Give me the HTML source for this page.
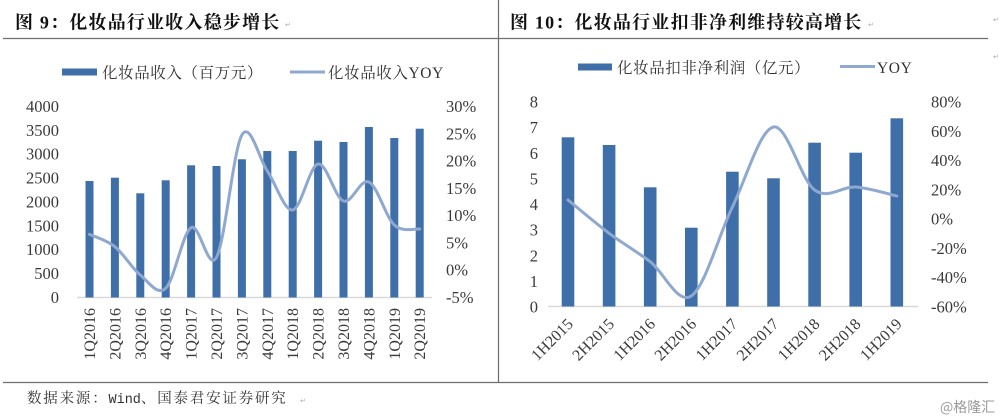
<!DOCTYPE html>
<html><head><meta charset="utf-8">
<style>
html,body{margin:0;padding:0;background:#fff;}
svg{display:block;}
.t{font-family:"Liberation Serif","Noto Serif CJK SC",serif;font-size:16.5px;fill:#3a3a3a;}
.x{font-family:"Liberation Serif","Noto Serif CJK SC",serif;font-size:16px;fill:#3a3a3a;}
.ttl{font-family:"Liberation Serif","Noto Serif CJK SC",serif;font-size:18px;font-weight:bold;fill:#111;letter-spacing:1.2px;}
.lg{font-family:"Liberation Serif","Noto Serif CJK SC",serif;font-size:15.5px;fill:#333;letter-spacing:0.6px;}
.ft{font-family:"Liberation Serif","Noto Serif CJK SC",serif;font-size:14.5px;fill:#333;letter-spacing:1.8px;}
.mk{font-family:"DejaVu Sans",sans-serif;font-size:7px;fill:#aaa;}
</style></head>
<body>
<svg width="1000" height="420" viewBox="0 0 1000 420" xmlns="http://www.w3.org/2000/svg">
<rect width="1000" height="420" fill="#fff"/>
<line x1="3" y1="38.5" x2="988" y2="38.5" stroke="#6e6e6e" stroke-width="1.2"/>
<line x1="3" y1="382.5" x2="988" y2="382.5" stroke="#6e6e6e" stroke-width="1.2"/>
<line x1="498.5" y1="0" x2="498.5" y2="382.5" stroke="#6e6e6e" stroke-width="1.2"/>

<text class="ttl" x="15" y="28.5">图 9：化妆品行业收入稳步增长</text>
<text class="mk" x="285" y="27">↵</text>
<text class="ttl" x="510" y="28.5">图 10：化妆品行业扣非净利维持较高增长</text>
<text class="mk" x="868" y="27">↵</text>
<text class="mk" x="993" y="22">↵</text>
<text class="mk" x="993" y="59">↵</text>

<rect x="62" y="68.5" width="35" height="7" fill="#3f6fa8"/>
<text class="lg" x="102" y="78">化妆品收入（百万元）</text>
<line x1="290" y1="72" x2="325" y2="72" stroke="#8ea8cf" stroke-width="3"/>
<text class="lg" x="328" y="78">化妆品收入YOY</text>

<line x1="77" y1="297.5" x2="432" y2="297.5" stroke="#d9d9d9" stroke-width="1.5"/>

<g fill="#3f6fa8">
<rect x="85.5" y="181" width="8" height="116.5"/>
<rect x="110.9" y="177.7" width="8" height="119.8"/>
<rect x="136.3" y="193.3" width="8" height="104.2"/>
<rect x="161.7" y="180.3" width="8" height="117.2"/>
<rect x="187.1" y="165.3" width="8" height="132.2"/>
<rect x="212.5" y="166" width="8" height="131.5"/>
<rect x="237.9" y="159.3" width="8" height="138.2"/>
<rect x="263.3" y="151" width="8" height="146.5"/>
<rect x="288.7" y="151" width="8" height="146.5"/>
<rect x="314.1" y="140.7" width="8" height="156.8"/>
<rect x="339.5" y="142" width="8" height="155.5"/>
<rect x="364.9" y="127" width="8" height="170.5"/>
<rect x="390.3" y="138" width="8" height="159.5"/>
<rect x="415.7" y="128.7" width="8" height="168.8"/>
</g>

<path fill="none" stroke="#8ea8cf" stroke-width="3" stroke-linecap="round" d="M89.5,234.3 C93.73,236.37 106.43,239.92 114.9,246.7 C123.37,253.48 131.83,268.07 140.3,275 C148.77,281.93 157.23,296.18 165.7,288.3 C174.17,280.42 182.63,232.87 191.1,227.7 C199.57,222.53 208.03,272.75 216.5,257.3 C224.97,241.85 233.43,149.38 241.9,135 C250.37,120.62 258.83,158.5 267.3,171 C275.77,183.5 284.23,211.17 292.7,210 C301.17,208.83 309.63,165.5 318.1,164 C326.57,162.5 335.03,198 343.5,201 C351.97,204 360.43,178 368.9,182 C377.37,186 385.83,217.17 394.3,225 C402.77,232.83 415.47,228.33 419.7,229"/>

<g class="t" text-anchor="end">
<text x="59" y="112">4000</text>
<text x="59" y="135.9">3500</text>
<text x="59" y="159.7">3000</text>
<text x="59" y="183.6">2500</text>
<text x="59" y="207.4">2000</text>
<text x="59" y="231.3">1500</text>
<text x="59" y="255.2">1000</text>
<text x="59" y="279">500</text>
<text x="59" y="302.9">0</text>
</g>
<g class="t">
<text x="446" y="112">30%</text>
<text x="446" y="139.3">25%</text>
<text x="446" y="166.6">20%</text>
<text x="446" y="193.9">15%</text>
<text x="446" y="221.1">10%</text>
<text x="446" y="248.4">5%</text>
<text x="446" y="275.7">0%</text>
<text x="446" y="303">-5%</text>
</g>

<g class="x" text-anchor="end">
<text transform="translate(95,308) rotate(-90)">1Q2016</text>
<text transform="translate(120.4,308) rotate(-90)">2Q2016</text>
<text transform="translate(145.8,308) rotate(-90)">3Q2016</text>
<text transform="translate(171.2,308) rotate(-90)">4Q2016</text>
<text transform="translate(196.6,308) rotate(-90)">1Q2017</text>
<text transform="translate(222,308) rotate(-90)">2Q2017</text>
<text transform="translate(247.4,308) rotate(-90)">3Q2017</text>
<text transform="translate(272.8,308) rotate(-90)">4Q2017</text>
<text transform="translate(298.2,308) rotate(-90)">1Q2018</text>
<text transform="translate(323.6,308) rotate(-90)">2Q2018</text>
<text transform="translate(349,308) rotate(-90)">3Q2018</text>
<text transform="translate(374.4,308) rotate(-90)">4Q2018</text>
<text transform="translate(399.8,308) rotate(-90)">1Q2019</text>
<text transform="translate(425.2,308) rotate(-90)">2Q2019</text>
</g>

<rect x="578" y="63.5" width="34" height="7" fill="#3f6fa8"/>
<text class="lg" x="617" y="73">化妆品扣非净利润（亿元）</text>
<line x1="840" y1="66.5" x2="875" y2="66.5" stroke="#8ea8cf" stroke-width="3"/>
<text class="lg" x="877" y="73">YOY</text>

<line x1="548" y1="306.5" x2="918" y2="306.5" stroke="#d9d9d9" stroke-width="1.5"/>

<g fill="#3f6fa8">
<rect x="561.7" y="137.3" width="12.6" height="169.2"/>
<rect x="602.8" y="145" width="12.6" height="161.5"/>
<rect x="643.9" y="187.3" width="12.6" height="119.2"/>
<rect x="685" y="227.7" width="12.6" height="78.8"/>
<rect x="726.1" y="171.7" width="12.6" height="134.8"/>
<rect x="767.2" y="178.3" width="12.6" height="128.2"/>
<rect x="808.3" y="142.7" width="12.6" height="163.8"/>
<rect x="849.4" y="152.7" width="12.6" height="153.8"/>
<rect x="890.5" y="118.3" width="12.6" height="188.2"/>
</g>

<path fill="none" stroke="#8ea8cf" stroke-width="3" stroke-linecap="round" d="M568,200 C574.85,205.55 595.4,223.02 609.1,233.3 C622.8,243.58 636.5,251.25 650.2,261.7 C663.9,272.15 677.6,305.12 691.3,296 C705,286.88 718.7,235.17 732.4,207 C746.1,178.83 759.8,129.83 773.5,127 C787.2,124.17 800.9,180 814.6,190 C828.3,200 842,186 855.7,187 C869.4,188 889.95,194.5 896.8,196"/>

<g class="t" text-anchor="end">
<text x="538" y="107.5">8</text>
<text x="538" y="133.1">7</text>
<text x="538" y="158.8">6</text>
<text x="538" y="184.4">5</text>
<text x="538" y="210">4</text>
<text x="538" y="235.6">3</text>
<text x="538" y="261.3">2</text>
<text x="538" y="286.9">1</text>
<text x="538" y="312.5">0</text>
</g>
<g class="t">
<text x="931" y="107.5">80%</text>
<text x="931" y="136.8">60%</text>
<text x="931" y="166.1">40%</text>
<text x="931" y="195.4">20%</text>
<text x="931" y="224.6">0%</text>
<text x="931" y="253.9">-20%</text>
<text x="931" y="283.2">-40%</text>
<text x="931" y="312.5">-60%</text>
</g>

<g class="x" text-anchor="end">
<text transform="translate(574,325) rotate(-45)">1H2015</text>
<text transform="translate(615.1,325) rotate(-45)">2H2015</text>
<text transform="translate(656.2,325) rotate(-45)">1H2016</text>
<text transform="translate(697.3,325) rotate(-45)">2H2016</text>
<text transform="translate(738.4,325) rotate(-45)">1H2017</text>
<text transform="translate(779.5,325) rotate(-45)">2H2017</text>
<text transform="translate(820.6,325) rotate(-45)">1H2018</text>
<text transform="translate(861.7,325) rotate(-45)">2H2018</text>
<text transform="translate(902.8,325) rotate(-45)">1H2019</text>
</g>

<text class="ft" x="27" y="403">数据来源：<tspan font-family="Liberation Mono, monospace" font-size="13.5px" letter-spacing="0">Wind</tspan>、国泰君安证券研究</text>
<text class="mk" x="300" y="403">↵</text>
<text x="940" y="412" font-family="'Noto Sans CJK SC','DejaVu Sans',sans-serif" font-size="14px" fill="#9a9a9a">@格隆汇</text>
</svg>
</body></html>
